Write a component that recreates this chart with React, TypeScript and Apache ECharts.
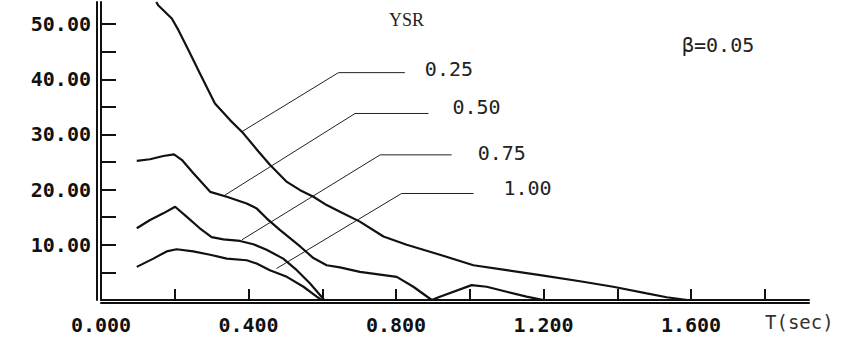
import React, { useEffect, useRef } from "react";
import * as echarts from "echarts";

// ---- data ----
const curve025: [number, number][] = [
  [0.150, 54.0], [0.155, 53.4], [0.192, 51.0], [0.210, 48.9], [0.237, 45.3], [0.268, 41.1],
  [0.309, 35.6], [0.350, 32.6], [0.386, 30.2], [0.427, 26.9], [0.458, 24.5], [0.504, 21.4],
  [0.540, 19.9], [0.576, 18.7], [0.612, 17.2], [0.648, 16.0], [0.702, 14.2], [0.766, 11.5],
  [0.829, 10.0], [0.919, 8.2], [1.010, 6.3], [1.100, 5.4], [1.191, 4.5], [1.299, 3.4],
  [1.389, 2.4], [1.480, 1.2], [1.534, 0.5], [1.590, 0.0],
];
const curve050: [number, number][] = [
  [0.097, 25.2], [0.133, 25.5], [0.169, 26.1], [0.198, 26.4], [0.219, 25.4], [0.250, 23.0],
  [0.296, 19.6], [0.341, 18.7], [0.395, 17.5], [0.422, 16.6], [0.449, 14.8], [0.485, 12.7],
  [0.540, 9.7], [0.576, 7.6], [0.612, 6.3], [0.648, 5.9], [0.702, 5.1], [0.802, 4.2],
  [0.847, 2.4], [0.897, 0.0], [0.919, 0.6], [1.005, 2.7], [1.046, 2.4], [1.100, 1.5],
  [1.154, 0.6], [1.200, 0.0],
];
const curve075: [number, number][] = [
  [0.097, 13.0], [0.133, 14.5], [0.169, 15.7], [0.201, 16.9], [0.232, 15.1], [0.268, 13.0],
  [0.300, 11.4], [0.332, 11.0], [0.377, 10.7], [0.413, 10.1], [0.449, 9.1], [0.494, 7.5],
  [0.531, 5.4], [0.567, 3.0], [0.598, 0.6], [0.605, 0.0],
];
const curve100: [number, number][] = [
  [0.097, 6.0], [0.142, 7.5], [0.178, 8.8], [0.205, 9.2], [0.250, 8.8], [0.296, 8.2],
  [0.341, 7.5], [0.395, 7.2], [0.422, 6.6], [0.458, 5.4], [0.504, 4.2], [0.549, 2.4],
  [0.585, 0.6], [0.598, 0.0],
];

// leader lines (annotation) in data coordinates
const leader025: [number, number][] = [[0.382, 30.5], [0.644, 41.2], [0.824, 41.2]];
const leader050: [number, number][] = [[0.336, 19.0], [0.689, 33.8], [0.888, 33.8]];
const leader075: [number, number][] = [[0.382, 10.9], [0.757, 26.3], [0.951, 26.3]];
const leader100: [number, number][] = [[0.476, 5.7], [0.815, 19.3], [1.010, 19.3]];
const seriesNames = ["0.25", "0.50", "0.75", "1.00"];

const xTickValues = [0.2, 0.4, 0.6, 0.8, 1.0, 1.2, 1.4, 1.6, 1.8];
const xLabelValues = [0, 0.4, 0.8, 1.2, 1.6];
const xLabelTexts = ["0.000", "0.400", "0.800", "1.200", "1.600"];
const yTickValues = [5, 10, 15, 20, 25, 30, 35, 40, 45, 50];
const yLabelValues = [10, 20, 30, 40, 50];
const yLabelTexts = ["10.00", "20.00", "30.00", "40.00", "50.00"];

const X_MAX = 1.92;
const Y_MAX = 54;

const INK = "#111";
const axisFont = {
  fontFamily: "DejaVu Sans Mono",
  fontWeight: "bold" as const,
  fontSize: 20,
  color: "#111",
};

export default function App() {
  const ref = useRef<HTMLDivElement>(null);
  useEffect(() => {
    if (!ref.current) return;
    const chart = echarts.init(ref.current, undefined, { renderer: "svg" });

    const curve = (name: string, data: [number, number][]) => ({
      type: "line",
      name,
      data,
      symbol: "none",
      lineStyle: { color: INK, width: 2.2 },
      z: 3,
    });
    const leader = (name: string, data: [number, number][], dist: number, dy: number) => ({
      type: "line",
      name: "leader " + name,
      data,
      symbol: "none",
      lineStyle: { color: "#222", width: 1 },
      endLabel: {
        show: true,
        formatter: name,
        distance: dist,
        offset: [0, dy],
        fontFamily: "DejaVu Sans Mono",
        fontSize: 20,
        color: "#222",
      },
      z: 2,
    });

    const hiddenAxis = {
      show: true,
      axisLabel: { show: false },
      axisTick: { show: false },
      splitLine: { show: false },
    };

    chart.setOption({
      animation: false,
      backgroundColor: "#fff",
      grid: { left: 101, top: 2, width: 708, height: 298 },
      xAxis: [
        {
          type: "value",
          min: 0,
          max: X_MAX,
          axisLine: { onZero: false, lineStyle: { color: INK, width: 2 } },
          axisTick: {
            inside: true,
            length: 11,
            customValues: xTickValues,
            lineStyle: { color: INK, width: 2 },
          },
          axisLabel: {
            customValues: xLabelValues,
            margin: 15,
            formatter: (v: number) => {
              const i = xLabelValues.findIndex((x) => Math.abs(x - v) < 1e-6);
              return i >= 0 ? xLabelTexts[i] : "";
            },
            ...axisFont,
          },
          splitLine: { show: false },
        },
        {
          type: "value",
          min: 0,
          max: X_MAX,
          position: "bottom",
          offset: 3,
          axisLine: { show: true, onZero: false, lineStyle: { color: INK, width: 2 } },
          ...hiddenAxis,
        },
      ],
      yAxis: [
        {
          type: "value",
          min: 0,
          max: Y_MAX,
          axisLine: { show: true, onZero: false, lineStyle: { color: INK, width: 2 } },
          axisTick: {
            show: true,
            inside: true,
            length: 15,
            customValues: yTickValues,
            lineStyle: { color: INK, width: 2 },
          },
          axisLabel: {
            customValues: yLabelValues,
            margin: 10,
            formatter: (v: number) => {
              const i = yLabelValues.findIndex((y) => Math.abs(y - v) < 1e-6);
              return i >= 0 ? yLabelTexts[i] : "";
            },
            ...axisFont,
          },
          splitLine: { show: false },
        },
        {
          type: "value",
          min: 0,
          max: Y_MAX,
          position: "left",
          offset: 4,
          axisLine: { show: true, onZero: false, lineStyle: { color: INK, width: 2 } },
          ...hiddenAxis,
        },
      ],
      graphic: [
        {
          type: "text",
          left: 389,
          top: 11,
          style: {
            text: "YSR",
            fontFamily: "Liberation Serif",
            fontSize: 18,
            fill: "#222",
          },
        },
        {
          type: "text",
          left: 682,
          top: 35,
          style: {
            text: "β=0.05",
            fontFamily: "DejaVu Sans Mono",
            fontSize: 20,
            fill: "#222",
          },
        },
        {
          type: "text",
          left: 765,
          top: 312,
          style: {
            text: "T(sec)",
            fontFamily: "DejaVu Sans Mono",
            fontSize: 19,
            fill: "#333",
          },
        },
      ],
      series: [
        curve(seriesNames[0], curve025),
        curve(seriesNames[1], curve050),
        curve(seriesNames[2], curve075),
        curve(seriesNames[3], curve100),
        leader(seriesNames[0], leader025, 20, -4),
        leader(seriesNames[1], leader050, 24, -6),
        leader(seriesNames[2], leader075, 26, -2),
        leader(seriesNames[3], leader100, 30, -5),
      ],
    });
    return () => chart.dispose();
  }, []);

  return (
    <div
      ref={ref}
      style={{ position: "fixed", left: 0, top: 0, width: 847, height: 346, background: "#fff" }}
    />
  );
}
